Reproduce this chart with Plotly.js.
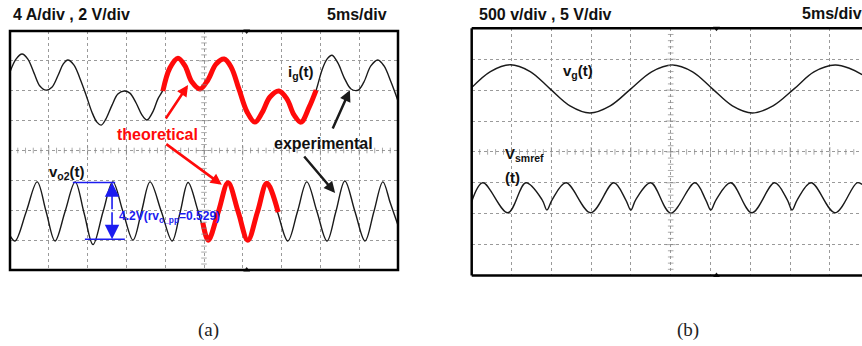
<!DOCTYPE html>
<html><head><meta charset="utf-8">
<script src="https://cdn.plot.ly/plotly-3.0.1.min.js"></script>
<style>html,body{margin:0;padding:0;background:#fff;overflow:hidden}#chart{width:862px;height:346px}</style>
</head><body><div id="chart"></div>
<script>
// ---------- Panel (a) data, in scope divisions (x: 0..10, y: -4..4) ----------
const igExpA_x = [0, 0.155, 0.31, 0.46, 0.62, 0.77, 0.93, 1.08, 1.24, 1.37, 1.49, 1.65, 1.80, 1.96, 2.11, 2.24, 2.35, 2.47, 2.63, 2.78, 2.94, 3.09, 3.25, 3.40, 3.53, 3.69, 3.81, 3.94];
const igExpA_y = [2.63, 3.06, 3.23, 3.06, 2.59, 2.16, 2.02, 2.12, 2.52, 2.89, 3.03, 2.86, 2.42, 1.86, 1.29, 0.95, 0.85, 1.05, 1.52, 1.89, 1.99, 1.92, 1.59, 1.19, 1.02, 1.32, 1.72, 2.02];
const igTheo_x = [3.94, 4.12, 4.33, 4.51, 4.69, 4.90, 5.10, 5.31, 5.52, 5.70, 5.90, 6.11, 6.31, 6.49, 6.70, 6.93, 7.14, 7.32, 7.50, 7.71, 7.89];
const igTheo_y = [1.99, 2.76, 3.09, 2.83, 2.29, 2.06, 2.36, 2.89, 3.06, 2.79, 2.06, 1.29, 0.95, 1.25, 1.79, 1.99, 1.72, 1.19, 0.95, 1.45, 2.02];
const igExpB_x = [7.89, 8.04, 8.17, 8.30, 8.45, 8.63, 8.79, 8.97, 9.12, 9.30, 9.48, 9.64, 9.82, 10.0];
const igExpB_y = [2.02, 2.69, 3.06, 3.19, 2.93, 2.39, 2.06, 2.02, 2.29, 2.83, 3.03, 2.83, 2.29, 1.66];

const vo2Exp_x = [0, 0.13, 0.42, 0.70, 0.93, 1.16, 1.42, 1.68, 1.91, 2.14, 2.40, 2.65, 2.91, 3.17, 3.39, 3.61, 3.90, 4.18, 4.39, 4.59, 4.85, 5.10, 5.36, 5.62, 5.88, 6.13, 6.38, 6.62, 6.89, 7.16, 7.41, 7.65, 7.91, 8.17, 8.40, 8.63, 8.89, 9.15, 9.38, 9.61, 9.80, 10];
const vo2Exp_y = [-2.85, -3.03, -2.04, -1.05, -2.04, -3.03, -2.04, -1.05, -2.10, -3.15, -2.04, -1.05, -2.04, -3.00, -2.04, -1.05, -2.04, -3.03, -2.04, -1.07, -2.04, -3.03, -2.04, -1.05, -2.04, -3.03, -2.04, -1.05, -2.04, -3.03, -2.04, -1.05, -2.04, -3.03, -2.04, -1.02, -2.04, -3.03, -2.04, -1.05, -1.75, -2.50];
const vo2Theo_x = [4.97, 5.11, 5.37, 5.62, 5.88, 6.13, 6.38, 6.62, 6.91];
const vo2Theo_y = [-2.42, -3.00, -2.05, -1.08, -2.05, -3.00, -2.05, -1.10, -2.06];

// peak-to-peak measurement of v_o2 (divisions)
const ppTop_x = [1.62, 2.71], ppTop_y = [-1.07, -1.07];
const ppBot_x = [1.93, 2.96], ppBot_y = [-2.97, -2.97];
const ppArrow_x = 2.63;

// ---------- Panel (b) data ----------
const vg_x = [0, 0.47, 0.97, 1.47, 1.97, 2.47, 2.97, 3.48, 4.00, 4.52, 5.04, 5.55, 6.05, 6.55, 7.05, 7.57, 8.10, 8.60, 9.13, 9.50, 9.81];
const vg_y = [2.08, 2.60, 2.82, 2.60, 2.04, 1.49, 1.26, 1.49, 2.04, 2.59, 2.81, 2.59, 2.04, 1.49, 1.26, 1.49, 2.04, 2.59, 2.81, 2.70, 2.50];
const vsm_x = [0, 0.28, 0.91, 1.36, 1.77, 1.89, 2.02, 2.37, 2.99, 3.57, 3.87, 4.00, 4.12, 4.50, 5.00, 5.61, 5.88, 6.01, 6.14, 6.51, 7.04, 7.61, 7.93, 8.05, 8.18, 8.53, 9.13, 9.68, 9.81];
const vsm_y = [-1.61, -1.00, -1.97, -1.00, -1.55, -1.88, -1.55, -1.00, -1.97, -1.00, -1.55, -1.88, -1.55, -1.00, -1.98, -1.00, -1.55, -1.88, -1.55, -1.00, -1.97, -1.00, -1.55, -1.88, -1.55, -1.00, -1.97, -1.00, -1.05];

const trigger_x = [6.1];

// ---------- layout helpers ----------
const W = 862, H = 346;
const px = v => v / W, py = v => 1 - v / H;
const FONT = 'Liberation Sans, Arial, Helvetica, sans-serif';
const SERIF = 'Liberation Serif, Times New Roman, serif';
const RED = '#ff0a0a', BLUE = '#1c1cf0', INK = '#1a1a1a';
const spl = {shape: 'spline', smoothing: 1};

const traces = [
  {x: igExpA_x.concat(igTheo_x.slice(1), igExpB_x.slice(1)), y: igExpA_y.concat(igTheo_y.slice(1), igExpB_y.slice(1)),
   mode: 'lines', line: Object.assign({color: INK, width: 1.4}, spl), xaxis: 'x', yaxis: 'y'},
  {x: vo2Exp_x, y: vo2Exp_y, mode: 'lines', line: Object.assign({color: INK, width: 1.4}, spl), xaxis: 'x', yaxis: 'y'},
  {x: igTheo_x, y: igTheo_y, mode: 'lines', line: Object.assign({color: RED, width: 5}, spl), xaxis: 'x', yaxis: 'y'},
  {x: vo2Theo_x, y: vo2Theo_y, mode: 'lines', line: Object.assign({color: RED, width: 5}, spl), xaxis: 'x', yaxis: 'y'},
  {x: ppTop_x, y: ppTop_y, mode: 'lines', line: {color: BLUE, width: 1.6}, xaxis: 'x', yaxis: 'y'},
  {x: ppBot_x, y: ppBot_y, mode: 'lines', line: {color: BLUE, width: 1.6}, xaxis: 'x', yaxis: 'y'},
  {x: vg_x, y: vg_y, mode: 'lines', line: Object.assign({color: INK, width: 1.4}, spl), xaxis: 'x2', yaxis: 'y2'},
  {x: vsm_x, y: vsm_y, mode: 'lines', line: Object.assign({color: INK, width: 1.4}, spl), xaxis: 'x2', yaxis: 'y2'}
];

// center-line graticule ticks (decoration)
function centerTicks(xa, ya, xmax) {
  const hx = [], hy = [], hs = [], vx = [], vy = [], vs = [];
  for (let k = 1; k < Math.round(xmax * 5); k++) { hx.push(k / 5); hy.push(0); hs.push(k % 5 === 0 ? 7 : 4); }
  for (let k = 1; k < 40; k++) { vx.push(5); vy.push(-4 + k / 5); vs.push(k % 5 === 0 ? 7 : 4); }
  traces.push({x: hx, y: hy, mode: 'markers', marker: {symbol: 'line-ns', size: hs, line: {color: '#888', width: 1}}, xaxis: xa, yaxis: ya});
  traces.push({x: vx, y: vy, mode: 'markers', marker: {symbol: 'line-ew', size: vs, line: {color: '#888', width: 1}}, xaxis: xa, yaxis: ya});
}
centerTicks('x', 'y', 10);
centerTicks('x2', 'y2', 9.8);
traces.push({x: trigger_x.concat(trigger_x), y: [4, -4], mode: 'markers', cliponaxis: false,
  marker: {symbol: ['triangle-down', 'triangle-up'], size: 6, color: INK}, xaxis: 'x', yaxis: 'y'});
traces.push({x: [trigger_x[0] + 0.05, trigger_x[0] + 0.05], y: [4, -4], mode: 'markers', cliponaxis: false,
  marker: {symbol: ['triangle-down', 'triangle-up'], size: 6, color: INK}, xaxis: 'x2', yaxis: 'y2'});

const ax = (domain, range) => ({domain, range, dtick: 1, tick0: 0, showgrid: true, griddash: 'dot',
  gridcolor: '#9a9a9a', gridwidth: 1, zeroline: false, showticklabels: false, ticks: '', showline: false, fixedrange: true});

const xbMax = (862 - 471.7) / 39.8;
const ann = [];
function txt(text, x, y, size, color, opts) {
  ann.push(Object.assign({text, x, y, xref: 'paper', yref: 'paper', showarrow: false,
    font: {family: FONT, size, color}, xanchor: 'left', yanchor: 'middle'}, opts || {}));
}
function atxt(text, x, y, size, color, xr, yr, opts) {
  ann.push(Object.assign({text, x, y, xref: xr, yref: yr, showarrow: false,
    font: {family: FONT, size, color}, xanchor: 'left', yanchor: 'middle'}, opts || {}));
}
function arrow(x0, y0, x1, y1, color, xr, yr, size, width) {
  ann.push({x: x1, y: y1, ax: x0, ay: y0, xref: xr, yref: yr, axref: xr, ayref: yr, text: '',
    showarrow: true, arrowhead: 2, arrowsize: size, arrowwidth: width, arrowcolor: color, standoff: 0, startstandoff: 0});
}

// titles
txt('<b>4 A/div , 2 V/div</b>', px(11), py(14), 16, '#111');
txt('<b>5ms/div</b>', px(389), py(14), 16, '#111', {xanchor: 'right'});
txt('<b>500 v/div , 5 V/div</b>', px(477), py(14), 16, '#111');
txt('<b>5ms/div</b>', px(800), py(13), 16, '#111');
// captions
txt('(a)', px(208), py(330), 19, '#222', {xanchor: 'center', font: {family: SERIF, size: 19, color: '#222'}});
txt('(b)', px(688), py(330), 19, '#222', {xanchor: 'center', font: {family: SERIF, size: 19, color: '#222'}});

// panel (a) labels
atxt('<b>i<sub>g</sub>(t)</b>', 7.12, 2.62, 15, '#111', 'x', 'y');
atxt('<b>v<sub>o2</sub>(t)</b>', 0.95, -0.72, 15, '#111', 'x', 'y');
atxt('<b>theoretical</b>', 3.79, 0.52, 16, RED, 'x', 'y', {xanchor: 'center'});
atxt('<b>experimental</b>', 8.07, 0.25, 16, '#111', 'x', 'y', {xanchor: 'center'});
atxt('<b>4.2V(rv<sub>o_pp</sub>=0.529)</b>', 2.76, -2.22, 12, BLUE, 'x', 'y');
arrow(3.99, 1.02, 4.59, 2.19, RED, 'x', 'y', 0.9, 2.5);
arrow(3.99, 0.25, 5.46, -1.15, RED, 'x', 'y', 0.9, 2.5);
arrow(8.30, 0.69, 8.76, 2.02, INK, 'x', 'y', 0.9, 2.5);
arrow(7.55, -0.15, 8.38, -1.42, INK, 'x', 'y', 0.9, 2.5);
arrow(ppArrow_x, -2.02, ppArrow_x, ppTop_y[0], BLUE, 'x', 'y', 1.8, 1.6);
arrow(ppArrow_x, -2.02, ppArrow_x, ppBot_y[0], BLUE, 'x', 'y', 1.8, 1.6);

// panel (b) labels
atxt('<b>v<sub>g</sub>(t)</b>', 2.24, 2.59, 15, '#111', 'x2', 'y2');
atxt('<b>V<sub>smref</sub></b>', 0.79, -0.08, 15, '#111', 'x2', 'y2');
atxt('<b>(t)</b>', 0.78, -0.84, 15, '#111', 'x2', 'y2');

const shapes = [
  {type: 'rect', xref: 'x domain', yref: 'y domain', x0: 0, x1: 1, y0: 0, y1: 1, line: {color: '#000', width: 2.5}},
  {type: 'line', xref: 'x2 domain', yref: 'y2 domain', x0: 0, x1: 0, y0: 0, y1: 1, line: {color: '#000', width: 2.5}},
  {type: 'line', xref: 'x2 domain', yref: 'y2 domain', x0: 0, x1: 1, y0: 1, y1: 1, line: {color: '#000', width: 2.5}},
  {type: 'line', xref: 'x2 domain', yref: 'y2 domain', x0: 0, x1: 1, y0: 0, y1: 0, line: {color: '#000', width: 2.5}}
];

const layout = {
  width: W, height: H, margin: {l: 0, r: 0, t: 0, b: 0},
  paper_bgcolor: '#fff', plot_bgcolor: '#fff', showlegend: false,
  xaxis: Object.assign(ax([px(10), px(398)], [0, 10]), {anchor: 'y'}),
  yaxis: Object.assign(ax([py(270), py(31)], [-4, 4]), {anchor: 'x'}),
  xaxis2: Object.assign(ax([px(471.7), 1], [0, xbMax]), {anchor: 'y2'}),
  yaxis2: Object.assign(ax([py(275.5), py(28.3)], [-4, 4]), {anchor: 'x2'}),
  annotations: ann, shapes
};

Plotly.newPlot('chart', traces, layout, {displayModeBar: false, staticPlot: true});
</script></body></html>
